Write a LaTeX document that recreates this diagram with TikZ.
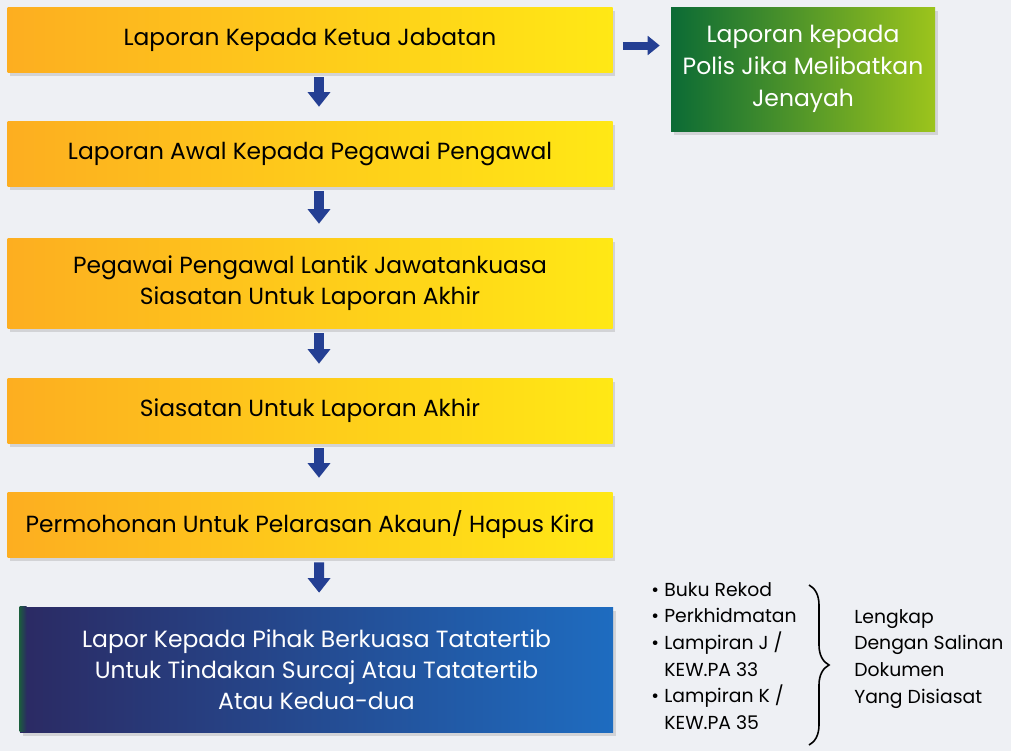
\documentclass[tikz,border=0pt]{standalone}
\usepackage{fontspec}
\setmainfont{Poppins}
\usetikzlibrary{arrows.meta,shadows,decorations.pathreplacing}
\definecolor{bgcol}{HTML}{EEF0F4}
\definecolor{orangeL}{HTML}{FDAE20}
\definecolor{yellowR}{HTML}{FFE815}
\definecolor{greenL}{HTML}{0B6B35}
\definecolor{greenR}{HTML}{9CC41C}
\definecolor{navyL}{HTML}{2B2A63}
\definecolor{blueR}{HTML}{1E6CC0}
\definecolor{stripecol}{HTML}{1C5A40}
\definecolor{arrowcol}{HTML}{243F93}
\tikzset{
	boxshadow/.style={drop shadow={opacity=0.25,shadow xshift=2pt,shadow yshift=-3pt}},
	stepbox/.style={boxshadow, left color=orangeL, right color=yellowR, minimum width=453.75pt, minimum height=48.75pt, inner sep=0pt, align=center, font=\fontsize{17.5}{23}\selectfont},
	policebox/.style={boxshadow, left color=greenL, right color=greenR, text=white, minimum width=198pt, minimum height=93pt, inner sep=0pt, align=center, font=\fontsize{17.6}{24}\selectfont},
	finalbox/.style={boxshadow, left color=navyL, right color=blueR, text=white, minimum width=444.75pt, minimum height=93.75pt, inner sep=0pt, align=center, font=\fontsize{17.6}{23.5}\selectfont},
	downarrow/.style={draw=arrowcol, line width=7.5pt, -{Triangle[width=16.5pt,length=11pt]}, shorten <=3.75pt, shorten >=10.5pt},
	sidearrow/.style={draw=arrowcol, line width=6pt, -{Triangle[width=14pt,length=9pt]}, shorten <=7.5pt, shorten >=8.25pt},
	smalltext/.style={inner sep=0pt, align=left, font=\fontsize{14.1}{20}\selectfont}
}
\begin{document}
\begin{tikzpicture}[x=0.75pt,y=-0.75pt]
	\fill[bgcol] (0,0) rectangle (1011,751);
	\useasboundingbox (0,0) rectangle (1011,751);
	% main steps
	\node[stepbox] (lapor) at (310,39.5) {Laporan Kepada Ketua Jabatan};
	\node[stepbox] (awal) at (310,153.5) {Laporan Awal Kepada Pegawai Pengawal};
	\node[stepbox, minimum height=67.5pt] (lantik) at (310,283) {Pegawai Pengawal Lantik Jawatankuasa\\Siasatan Untuk Laporan Akhir};
	\node[stepbox] (siasat) at (310,410.5) {Siasatan Untuk Laporan Akhir};
	\node[stepbox] (mohon) at (310,524.5) {Permohonan Untuk Pelarasan Akaun/ Hapus Kira};
	\node[finalbox] (berkuasa) at (316.5,669.5) {Lapor Kepada Pihak Berkuasa Tatatertib\\Untuk Tindakan Surcaj Atau Tatatertib\\Atau Kedua-dua};
	\shade[left color=stripecol, right color=navyL] (berkuasa.north west) rectangle ++(7,125);
	\node[policebox] (polis) at (803,69) {Laporan kepada\\Polis Jika Melibatkan\\Jenayah};
	% arrows
	\draw[downarrow] ([xshift=6.75pt]lapor.south) -- ([xshift=6.75pt]awal.north);
	\draw[downarrow] ([xshift=6.75pt]awal.south) -- ([xshift=6.75pt]lantik.north);
	\draw[downarrow] ([xshift=6.75pt]lantik.south) -- ([xshift=6.75pt]siasat.north);
	\draw[downarrow] ([xshift=6.75pt]siasat.south) -- ([xshift=6.75pt]mohon.north);
	\draw[downarrow] ([xshift=6.75pt]mohon.south) -- ([xshift=2pt]berkuasa.north);
	\draw[sidearrow] ([yshift=-4.5pt]lapor.east) -- ([yshift=-4.5pt]lapor.east -| polis.west);
	% documents
	\node[smalltext, anchor=north west] (dokumen) at (651,582) {\textbullet\hspace{4pt}Buku Rekod\\\textbullet\hspace{4pt}Perkhidmatan\\\textbullet\hspace{4pt}Lampiran J /\\\hphantom{\textbullet\hspace{4pt}}KEW.PA 33\\\textbullet\hspace{4pt}Lampiran K /\\\hphantom{\textbullet\hspace{4pt}}KEW.PA 35};
	\coordinate (braceTop) at (809,585);
	\coordinate (braceBot) at (809,745);
	\draw[line width=1.2pt, decorate, decoration={brace,amplitude=15pt}] (braceTop) -- (braceBot);
	\node[smalltext, anchor=north west] (lengkap) at (854,609) {Lengkap\\Dengan Salinan\\Dokumen\\Yang Disiasat};
\end{tikzpicture}
\end{document}
